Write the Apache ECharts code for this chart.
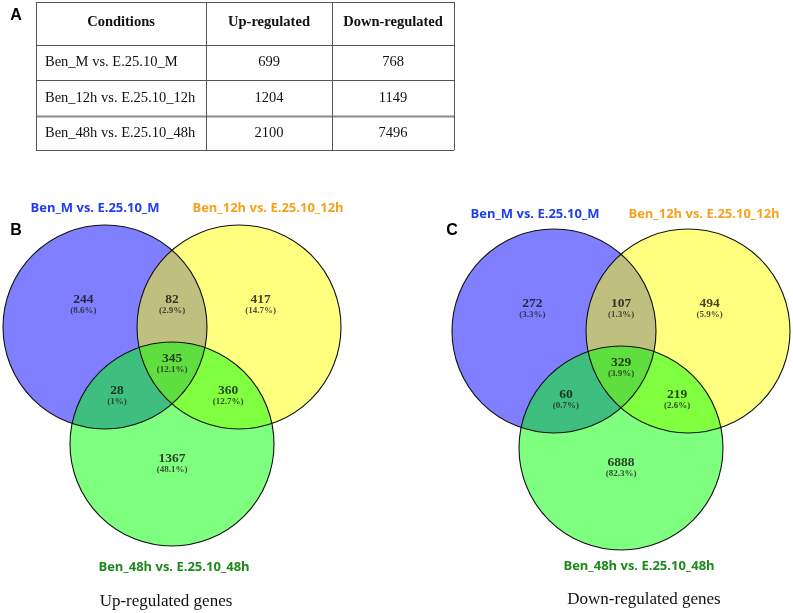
<!DOCTYPE html>
<html><head><meta charset="utf-8">
<script src="https://cdn.jsdelivr.net/npm/echarts@6/dist/echarts.min.js"></script>
<style>html,body{margin:0;padding:0;background:#fff}#c{width:793px;height:613px}</style>
</head><body><div id="c"></div>
<script>
// ---- Data ----
const tableHeaders = ['Conditions', 'Up-regulated', 'Down-regulated'];
const conditions = ['Ben_M vs. E.25.10_M', 'Ben_12h vs. E.25.10_12h', 'Ben_48h vs. E.25.10_48h'];
const upTotals = [699, 1204, 2100];
const downTotals = [768, 1149, 7496];

const setNames = ['Ben_M vs. E.25.10_M', 'Ben_12h vs. E.25.10_12h', 'Ben_48h vs. E.25.10_48h'];
// regions: M only, M∩12h only, 12h only, all three, M∩48h only, 12h∩48h only, 48h only
const regionNames = ['M', 'M&12h', '12h', 'M&12h&48h', 'M&48h', '12h&48h', '48h'];
const upCounts = [244, 82, 417, 345, 28, 360, 1367];
const upPercents = ['8.6%', '2.9%', '14.7%', '12.1%', '1%', '12.7%', '48.1%'];
const downCounts = [272, 107, 494, 329, 60, 219, 6888];
const downPercents = ['3.3%', '1.3%', '5.9%', '3.9%', '0.7%', '2.6%', '82.3%'];

// ---- Layout (in circle-radius units) ----
const circleLayout = [[-0.657, 0, 1], [0.657, 0, 1], [0, -1.147, 1]];
const regionAnchors = [[-0.87, 0.22], [0, 0.22], [0.87, 0.22], [0, -0.36], [-0.54, -0.67], [0.55, -0.67], [0, -1.34]];
const circleColors = ['rgba(0,0,255,0.5)', 'rgba(255,255,0,0.5)', 'rgba(0,255,0,0.5)'];
const titleColors = ['#1f3df0', '#f7a21b', '#1d8a1d'];

const serif = '"Liberation Serif", "Times New Roman", serif';
const sans = '"Open Sans", "Liberation Sans", Arial, sans-serif';

// ---- Table graphics ----
const colX = [36, 206, 332, 454];
const rowY = [2, 45, 80, 116, 150];
const graphic = [];
for (let i = 0; i < rowY.length; i++) {
  graphic.push({type: 'line', shape: {x1: colX[0], y1: rowY[i] + 0.5, x2: colX[3], y2: rowY[i] + 0.5},
    style: {stroke: i === 3 ? '#8a8a8a' : '#555', lineWidth: i === 3 ? 2 : 1}});
}
for (let j = 0; j < colX.length; j++) {
  graphic.push({type: 'line', shape: {x1: colX[j] + 0.5, y1: rowY[0], x2: colX[j] + 0.5, y2: rowY[4]},
    style: {stroke: '#555', lineWidth: 1}});
}
tableHeaders.forEach((h, j) => {
  graphic.push({type: 'text', x: (colX[j] + colX[j + 1]) / 2, y: (rowY[0] + rowY[1]) / 2 - 1,
    style: {text: h, fill: '#111', font: 'bold 14.5px ' + serif, textAlign: 'center', textVerticalAlign: 'middle'}});
});
conditions.forEach((c, i) => {
  const cy = (rowY[i + 1] + rowY[i + 2]) / 2;
  graphic.push({type: 'text', x: colX[0] + 9, y: cy,
    style: {text: c, fill: '#111', font: '14.5px ' + serif, textAlign: 'left', textVerticalAlign: 'middle'}});
  graphic.push({type: 'text', x: (colX[1] + colX[2]) / 2, y: cy,
    style: {text: String(upTotals[i]), fill: '#111', font: '14.5px ' + serif, textAlign: 'center', textVerticalAlign: 'middle'}});
  graphic.push({type: 'text', x: (colX[2] + colX[3]) / 2, y: cy,
    style: {text: String(downTotals[i]), fill: '#111', font: '14.5px ' + serif, textAlign: 'center', textVerticalAlign: 'middle'}});
});

function txt(t, x, y, fill, font) {
  graphic.push({type: 'text', x: x, y: y, style: {text: t, fill: fill, font: font, textAlign: 'center', textVerticalAlign: 'middle'}});
}
txt('A', 16, 16, '#000', 'bold 16px "Liberation Sans", Arial, sans-serif');
txt('B', 16, 231, '#000', 'bold 16px "Liberation Sans", Arial, sans-serif');
txt('C', 452, 231, '#000', 'bold 16px "Liberation Sans", Arial, sans-serif');

const titlePos = {
  up: [[95, 208], [268, 208], [174, 567]],
  down: [[535, 214], [704, 214], [639, 566]]
};
['up', 'down'].forEach(k => {
  setNames.forEach((n, i) => txt(n, titlePos[k][i][0], titlePos[k][i][1], titleColors[i], 'bold 13px ' + sans));
});
txt('Up-regulated genes', 166, 602, '#111', '17px ' + serif);
txt('Down-regulated genes', 644, 600, '#111', '17px ' + serif);

// ---- Venn series ----
const grids = [
  {left: 3, top: 225, width: 338, height: 321},
  {left: 452, top: 229, width: 338, height: 321}
];
const xAxes = grids.map((g, i) => ({gridIndex: i, type: 'value', min: -1.657, max: 1.657, show: false}));
const yAxes = grids.map((g, i) => ({gridIndex: i, type: 'value', min: -2.147, max: 1, show: false}));

function circleSeries(gi, stroke) {
  return {
    type: 'custom', xAxisIndex: gi, yAxisIndex: gi, z: stroke ? 3 : 2, silent: true,
    data: circleLayout.map((c, i) => [c[0], c[1], c[2], i]),
    renderItem: function (params, api) {
      const p = api.coord([api.value(0), api.value(1)]);
      const r = api.size([api.value(2), 0])[0];
      const idx = api.value(3);
      return {type: 'circle', shape: {cx: p[0], cy: p[1], r: r},
        style: stroke ? {fill: 'none', stroke: '#111', lineWidth: 1.1} : {fill: circleColors[idx]}};
    }
  };
}
function labelSeries(gi, counts, pcts) {
  return {
    type: 'scatter', xAxisIndex: gi, yAxisIndex: gi, symbolSize: 0, z: 5, silent: true,
    data: regionAnchors.map((a, i) => ({name: regionNames[i], value: [a[0], a[1], counts[i], pcts[i]]})),
    label: {
      show: true, position: 'inside',
      formatter: p => '{n|' + p.value[2] + '}\n{p|(' + p.value[3] + ')}',
      rich: {
        n: {fontFamily: serif, fontWeight: 'bold', fontSize: 13.5, lineHeight: 12, color: '#111', align: 'center'},
        p: {fontFamily: serif, fontWeight: 'bold', fontSize: 9, lineHeight: 10, color: '#222', align: 'center'}
      }
    }
  };
}

const chart = echarts.init(document.getElementById('c'), null, {renderer: 'canvas'});
chart.setOption({
  animation: false,
  backgroundColor: '#fff',
  grid: grids,
  xAxis: xAxes,
  yAxis: yAxes,
  graphic: graphic,
  series: [
    circleSeries(0, false), circleSeries(0, true), labelSeries(0, upCounts, upPercents),
    circleSeries(1, false), circleSeries(1, true), labelSeries(1, downCounts, downPercents)
  ]
});
</script></body></html>
